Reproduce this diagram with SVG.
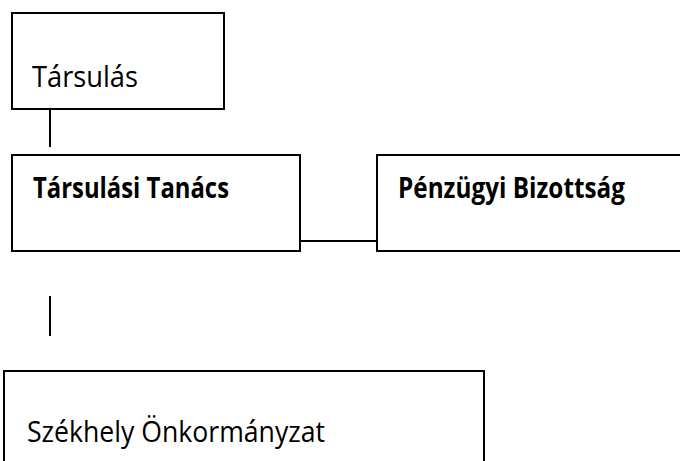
<svg xmlns="http://www.w3.org/2000/svg" width="680" height="461" viewBox="0 0 680 461">
<style>
.box{fill:#fff;stroke:#000;stroke-width:2}
.ln{stroke:#000;stroke-width:2;fill:none}
.t{font-family:"Open Sans","Liberation Sans",sans-serif;font-size:29px;fill:#000}
.b{font-weight:bold}
</style>
<rect width="680" height="461" fill="#fff"/>
<g id="connectors">
<line class="ln" x1="50" y1="109" x2="50" y2="147"/>
<line class="ln" x1="300" y1="241" x2="377" y2="241"/>
<line class="ln" x1="50" y1="296" x2="50" y2="336"/>
</g>
<g id="tarsulas">
<rect class="box" x="12" y="13" width="212" height="96"/>
<text class="t" x="32" y="87" textLength="106" lengthAdjust="spacingAndGlyphs">Társulás</text>
</g>
<g id="tarsulasi-tanacs">
<rect class="box" x="12" y="155" width="288" height="96"/>
<text class="t b" x="33" y="198" textLength="196" lengthAdjust="spacingAndGlyphs">Társulási Tanács</text>
</g>
<g id="penzugyi-bizottsag">
<rect class="box" x="377" y="155" width="320" height="96"/>
<text class="t b" x="398" y="198" textLength="227" lengthAdjust="spacingAndGlyphs">Pénzügyi Bizottság</text>
</g>
<g id="szekhely">
<rect class="box" x="4" y="371" width="480" height="120"/>
<text class="t" x="27" y="442" textLength="298" lengthAdjust="spacingAndGlyphs">Székhely Önkormányzat</text>
</g>
</svg>
